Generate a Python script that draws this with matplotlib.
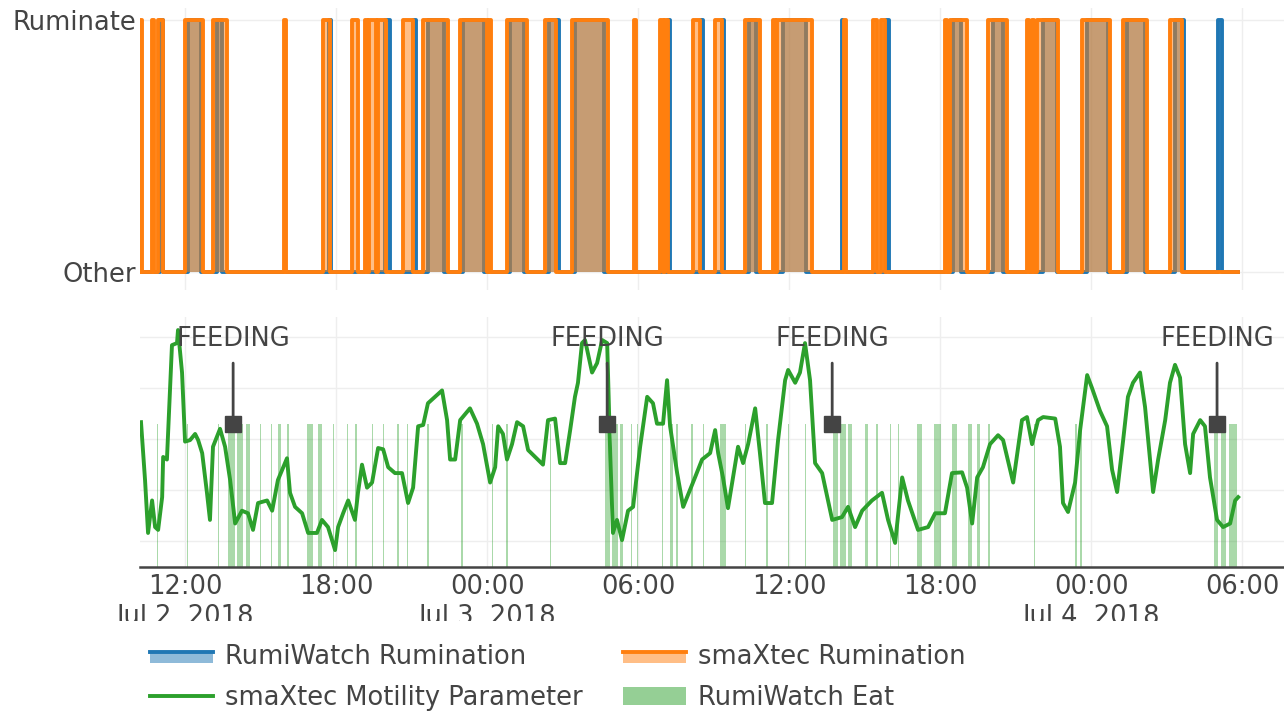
import numpy as np
import matplotlib
matplotlib.use("Agg")
import matplotlib.pyplot as plt
import matplotlib.dates as mdates
from matplotlib.patches import Rectangle, Patch
from matplotlib.lines import Line2D
from matplotlib.legend_handler import HandlerBase

# ---- data (hours since 2018-07-02 00:00) ----
smaxtec_rumination = [(10.21, 10.29), (10.69, 10.77), (10.93, 11.13), (12.0, 12.72), (13.11, 13.67),
                      (15.93, 16.01), (17.48, 17.76), (18.63, 18.87), (19.15, 19.23), (19.31, 19.59),
                      (19.67, 19.99), (20.66, 21.06), (21.46, 22.45), (22.93, 24.0), (24.08, 24.16),
                      (24.79, 25.59), (26.3, 26.74), (27.38, 28.81), (29.84, 29.92), (30.87, 30.99),
                      (31.07, 31.19), (32.18, 32.46), (33.06, 33.33), (34.25, 34.84), (35.36, 35.44),
                      (35.52, 36.91), (38.18, 38.26), (39.33, 39.49), (39.65, 39.81), (42.19, 42.27),
                      (42.39, 43.07), (43.9, 44.66), (45.45, 45.53), (45.65, 45.73), (45.85, 46.68),
                      (47.64, 48.75), (49.27, 50.22), (51.13, 51.61)]
rumiwatch_rumination = [(11.01, 11.13), (12.12, 12.64), (13.27, 13.47), (17.72, 17.8), (19.95, 20.14),
                        (21.06, 21.18), (21.65, 22.29), (23.04, 23.88), (24.91, 25.47), (26.46, 26.86),
                        (27.49, 28.65), (31.19, 31.27), (32.5, 32.58), (33.33, 33.41), (34.41, 34.69),
                        (35.76, 36.67), (38.1, 38.14), (39.85, 39.97), (42.51, 42.83), (44.1, 44.5),
                        (46.09, 46.64), (47.84, 48.67), (49.43, 50.14), (51.33, 51.69), (53.04, 53.2)]
rumination_start, rumination_end = 10.21, 53.84

motility_hours = [10.25, 10.41, 10.53, 10.69, 10.81, 10.93, 11.09, 11.13, 11.28, 11.48, 11.68, 11.72, 11.88,
                  12.0, 12.2, 12.4, 12.52, 12.68, 12.87, 12.99, 13.11, 13.39, 13.59, 13.79, 13.99, 14.26,
                  14.5, 14.7, 14.9, 15.26, 15.46, 15.69, 16.05, 16.17, 16.37, 16.65, 16.89, 17.24, 17.44,
                  17.68, 17.96, 18.08, 18.28, 18.48, 18.75, 18.87, 19.03, 19.23, 19.43, 19.67, 19.87,
                  20.07, 20.34, 20.62, 20.86, 21.06, 21.26, 21.46, 21.65, 21.93, 22.21, 22.41, 22.53,
                  22.73, 22.93, 23.32, 23.6, 23.84, 24.12, 24.32, 24.44, 24.63, 24.79, 24.99, 25.19,
                  25.43, 25.63, 25.91, 26.22, 26.42, 26.7, 26.9, 27.1, 27.3, 27.49, 27.61, 27.77, 27.89,
                  28.17, 28.37, 28.57, 28.77, 28.89, 29.0, 29.16, 29.36, 29.6, 29.8, 30.08, 30.36, 30.59,
                  30.75, 30.99, 31.15, 31.27, 31.55, 31.79, 32.26, 32.54, 32.86, 33.06, 33.18, 33.37,
                  33.57, 33.97, 34.17, 34.37, 34.65, 34.84, 35.04, 35.32, 35.56, 35.84, 35.96, 36.24,
                  36.43, 36.63, 36.83, 37.03, 37.31, 37.71, 38.1, 38.34, 38.62, 38.9, 39.29, 39.69,
                  39.93, 40.21, 40.49, 40.72, 41.12, 41.52, 41.8, 42.19, 42.47, 42.87, 43.07, 43.27,
                  43.47, 43.7, 43.98, 44.3, 44.5, 44.9, 45.25, 45.45, 45.65, 45.89, 46.09, 46.57, 46.76,
                  46.88, 47.08, 47.36, 47.56, 47.84, 48.03, 48.35, 48.63, 48.83, 49.03, 49.27, 49.46,
                  49.66, 49.94, 50.14, 50.34, 50.46, 50.66, 50.94, 51.13, 51.33, 51.53, 51.73, 51.93,
                  52.05, 52.33, 52.52, 52.72, 53.0, 53.24, 53.52, 53.72, 53.84]
motility_values = [5.66, 3.4, 1.33, 2.6, 1.56, 1.45, 2.73, 4.3, 4.2, 8.67, 8.75, 9.26, 7.6,
                   4.9, 4.96, 5.2, 4.96, 4.45, 2.9, 1.84, 4.7, 5.4, 4.7, 3.4, 1.7, 2.2,
                   2.1, 1.45, 2.5, 2.6, 2.2, 3.4, 4.25, 2.9, 2.35, 2.1, 1.33, 1.33, 1.84,
                   1.56, 0.66, 1.56, 2.1, 2.6, 1.84, 2.9, 4.0, 3.1, 3.3, 4.65, 4.6,
                   3.9, 3.67, 3.67, 2.5, 3.1, 5.5, 5.55, 6.4, 6.65, 6.9, 5.74, 4.2,
                   4.2, 5.74, 6.2, 5.6, 4.8, 3.3, 3.9, 5.5, 5.2, 4.2, 4.8, 5.66,
                   5.5, 4.57, 4.3, 4.0, 5.74, 5.8, 4.06, 4.06, 5.35, 6.65, 7.2, 8.75, 8.87,
                   7.6, 7.97, 8.87, 8.75, 4.45, 1.33, 1.84, 1.05, 2.2, 2.35, 4.7, 6.65, 6.4,
                   5.6, 5.6, 7.3, 5.5, 3.67, 2.35, 3.5, 4.2, 4.45, 5.35, 4.45, 3.5,
                   2.3, 4.7, 4.06, 4.8, 6.2, 4.45, 2.5, 2.5, 4.96, 7.3, 7.7, 7.2,
                   7.6, 8.75, 7.3, 4.06, 3.67, 1.84, 1.95, 2.35, 1.56, 2.2, 2.6, 2.9,
                   1.84, 0.94, 3.5, 2.6, 1.45, 1.56, 2.1, 2.1, 3.67, 3.7, 3.1, 1.7,
                   3.5, 3.9, 4.8, 5.15, 4.96, 3.3, 5.74, 5.86, 4.8, 5.74, 5.86, 5.8, 4.7,
                   2.5, 2.15, 3.3, 5.35, 7.5, 7.0, 6.1, 5.5, 3.8, 2.93, 4.96, 6.65,
                   7.2, 7.6, 6.25, 4.2, 2.93, 4.2, 5.74, 7.2, 7.9, 7.4, 4.8, 3.67,
                   5.2, 5.74, 5.5, 3.5, 1.84, 1.56, 1.7, 2.6, 2.73]

rumiwatch_eat = [(10.87, 10.93), (12.06, 12.12), (13.29, 13.35), (13.71, 13.99), (14.07, 14.3), (14.42, 14.58),
                 (14.96, 15.02), (15.4, 15.46), (15.69, 15.81), (16.07, 16.13), (16.85, 17.09), (17.28, 17.44),
                 (17.86, 17.92), (18.42, 18.48), (18.77, 18.83), (19.41, 19.47), (19.85, 19.91), (20.44, 20.5),
                 (20.8, 20.86), (21.63, 21.69), (22.98, 23.04), (24.18, 24.24), (24.77, 24.83), (26.48, 26.54),
                 (28.69, 28.89), (28.97, 29.2), (29.28, 29.4), (29.7, 29.76), (29.94, 30.0), (30.93, 30.99),
                 (31.27, 31.39), (31.51, 31.59), (32.12, 32.18), (32.56, 32.62), (33.27, 33.5), (34.23, 34.29),
                 (35.1, 35.16), (35.94, 36.0), (36.61, 36.67), (37.75, 37.94), (38.02, 38.26), (38.34, 38.5),
                 (39.02, 39.14), (39.47, 39.53), (39.99, 40.05), (40.31, 40.37), (41.08, 41.28), (41.76, 42.04),
                 (42.47, 42.67), (43.11, 43.27), (43.47, 43.59), (43.92, 43.98), (45.71, 45.77), (47.36, 47.44),
                 (47.56, 47.64), (52.88, 53.04), (53.16, 53.36), (53.48, 53.8)]
eat_level = 5.6

feeding_hours = [13.91, 28.77, 37.71, 53.0]

tick_hours = [12, 18, 24, 30, 36, 42, 48, 54]
tick_labels = ["12:00\nJul 2, 2018", "18:00", "00:00\nJul 3, 2018", "06:00",
               "12:00", "18:00", "00:00\nJul 4, 2018", "06:00"]
view_hours = (10.21, 55.66)

BASE = np.datetime64("2018-07-02T00:00:00")


def to_num(hours):
    secs = np.round(np.asarray(hours, dtype=float) * 3600).astype("timedelta64[s]")
    return mdates.date2num(BASE + secs)


def steps(intervals, t0, t1):
    xs, ys = [t0], [0]
    for a, b in intervals:
        xs += [a, a, b, b]
        ys += [0, 1, 1, 0]
    xs.append(t1)
    ys.append(0)
    return to_num(xs), np.array(ys, dtype=float)


BLUE, ORANGE, GREEN, GREY = "#1f77b4", "#ff7f0e", "#2ca02c", "#444444"
FS = 18.5
LW = 2.8
plt.rcParams["font.family"] = ["DejaVu Sans"]

fig = plt.figure(figsize=(12.84, 7.12), dpi=100)
W, H = 1284, 712
ax1 = fig.add_axes([140 / W, 1 - 290 / H, 1 - 140 / W, 282 / H])
ax2 = fig.add_axes([140 / W, 1 - 567 / H, 1 - 140 / W, 250 / H], sharex=ax1)

# ---- top: rumination states (each trace: fill, then line) ----
bx, by = steps(rumiwatch_rumination, rumination_start, rumination_end)
ox, oy = steps(smaxtec_rumination, rumination_start, rumination_end)
ax1.fill_between(bx, by, 0, color=BLUE, alpha=0.5, lw=0, zorder=1)
ax1.plot(bx, by, color=BLUE, lw=LW, zorder=2)
ax1.fill_between(ox, oy, 0, color=ORANGE, alpha=0.5, lw=0, zorder=3)
ax1.plot(ox, oy, color=ORANGE, lw=LW, zorder=4)
ax1.set_ylim(-0.071, 1.048)
ax1.set_yticks([0, 1], ["Other", "Ruminate"])
ax1.tick_params(axis="y", length=0, pad=3, labelsize=FS, labelcolor=GREY)
ax1.tick_params(axis="x", length=0, labelbottom=False)
ax1.grid(True, color="#eeeeee", lw=1)
ax1.set_axisbelow(True)
for s in ax1.spines.values():
    s.set_visible(False)

# ---- bottom: motility + eating ----
for a, b in rumiwatch_eat:
    s0, s1 = to_num([a, b])
    ax2.bar(s0, eat_level, width=s1 - s0, align="edge", color=GREEN, alpha=0.4, lw=0, zorder=1)
ax2.plot(to_num(motility_hours), motility_values, color=GREEN, lw=LW, zorder=2)
for h in feeding_hours:
    ax2.annotate("FEEDING", xy=(to_num(h), eat_level), xytext=(0, 61), textcoords="offset points",
                 ha="center", va="center", fontsize=FS, color=GREY, zorder=4,
                 arrowprops=dict(arrowstyle="-", color=GREY, lw=2, shrinkA=6, shrinkB=0))
ax2.plot(to_num(feeding_hours), [eat_level] * len(feeding_hours), "s", color=GREY, ms=11, zorder=5)
ax2.set_ylim(0, 9.77)
ax2.set_yticks([1, 3, 5, 7, 9])
ax2.tick_params(axis="y", length=0, labelleft=False)
ax2.grid(True, color="#eeeeee", lw=1)
ax2.set_axisbelow(True)
for k in ["top", "left", "right"]:
    ax2.spines[k].set_visible(False)
ax2.spines["bottom"].set_color(GREY)
ax2.spines["bottom"].set_linewidth(1.8)

ax2.set_xlim(*to_num(view_hours))
ax2.set_xticks(to_num(tick_hours), tick_labels)
ax2.tick_params(axis="x", length=0, pad=5, labelsize=FS, labelcolor=GREY)

# tick date line is cut off above the legend in the original
fig.add_artist(Rectangle((0, 0), 1, 1 - 621 / H, transform=fig.transFigure,
                         facecolor="white", edgecolor="none", zorder=3))


class FillHandler(HandlerBase):
    def create_artists(self, legend, orig_handle, xdescent, ydescent, width, height, fontsize, trans):
        c = orig_handle.get_color()
        rect = Rectangle((-xdescent, -ydescent + 0.05 * height), width, 0.6 * height,
                         facecolor=c, alpha=0.5, lw=0, transform=trans)
        line = Line2D([-xdescent, -xdescent + width], [-ydescent + 0.68 * height] * 2,
                      color=c, lw=LW, transform=trans)
        return [rect, line]


h_rw = Line2D([], [], color=BLUE)
h_sx = Line2D([], [], color=ORANGE)
h_mot = Line2D([], [], color=GREEN, lw=LW)
h_eat = Patch(facecolor=GREEN, alpha=0.5, lw=0)
leg = fig.legend([h_rw, h_mot, h_sx, h_eat],
                 ["RumiWatch Rumination", "smaXtec Motility Parameter", "smaXtec Rumination", "RumiWatch Eat"],
                 handler_map={h_rw: FillHandler(), h_sx: FillHandler()},
                 loc="upper left", bbox_to_anchor=(150 / W, 1 - 644 / H), ncol=2, frameon=False,
                 fontsize=FS, handlelength=2.45, handletextpad=0.45, columnspacing=1.6,
                 labelspacing=0.58, borderpad=0, borderaxespad=0)
for t in leg.get_texts():
    t.set_color(GREY)

fig.savefig("out.png", dpi=100)
